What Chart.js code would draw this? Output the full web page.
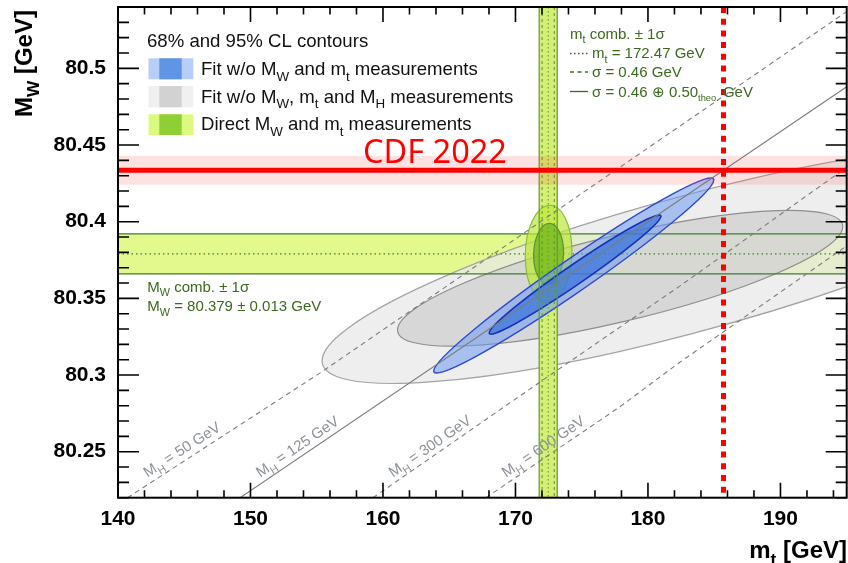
<!DOCTYPE html>
<html>
<head>
<meta charset="utf-8">
<script src="https://cdn.jsdelivr.net/npm/chart.js@4.4.1/dist/chart.umd.min.js"></script>
<style>
  html, body { margin: 0; padding: 0; background: #ffffff; }
  #c { display: block; }
</style>
</head>
<body>
<canvas id="c" width="848" height="563"></canvas>
<script>
// ---- axis ranges and tick labels ----
const mtRange = [140, 195];
const mwRange = [80.22, 80.54];
const mtTicks = [140, 150, 160, 170, 180, 190];
const mwTicks = [80.25, 80.3, 80.35, 80.4, 80.45, 80.5];

// ---- measurements ----
const mwComb = [80.379, 0.013];          // value, 1 sigma
const mtComb = [172.47, 0.46, 0.68];     // value, exp. sigma, total sigma
const mtTheo = 0.50;
const cdfMw = [80.4335, 0.0094];         // CDF 2022 value, 1 sigma
const cdfMtCross = 185.7;                // m_t where the M_H = 125 GeV line meets CDF

// ---- SM prediction lines for fixed Higgs mass (m_t, M_W points) ----
const higgsMass = [50, 125, 300, 600];
const higgsLineMt = [
  [140.72, 155.3, 195.0],
  [149.22, 185.7, 195.0],
  [159.24, 171.85, 182.4, 195.0],
  [167.77, 177.9, 182.4, 195.0]
];
const higgsLineMw = [
  [80.22, 80.3016, 80.537],
  [80.22, 80.4335, 80.488],
  [80.22, 80.2954, 80.358, 80.4355],
  [80.22, 80.2794, 80.3083, 80.3842]
];

// ---- CL contours: [95% CL, 68% CL] ----
// fit without M_W, m_t and M_H
const freeFitMt = [183.2, 177.9];
const freeFitMw = [80.3724, 80.3631];
const freeFitHalfMt = [27.8, 16.8];
const freeFitHalfMw = [0.0779, 0.0443];
const freeFitRho = [0.81, 0.76];
// fit without M_W and m_t
const smFitMt = [174.4, 174.5];
const smFitMw = [80.3649, 80.3655];
const smFitHalfMt = [10.57, 6.48];
const smFitHalfMw = [0.0636, 0.0388];
const smFitRho = [0.979, 0.98];
// direct M_W and m_t measurements
const directMt = [172.5, 172.5];
const directMw = [80.379, 80.379];
const directHalfMt = [1.76, 1.13];
const directHalfMw = [0.0317, 0.0199];
const directRho = [0.05, 0.05];

const SANS = "'Liberation Sans', Arial, Helvetica, sans-serif";
const GREEN_TXT = '#3a6a1c';

// draw text made of normal / subscript pieces, starting at (x, y) baseline
function richText(ctx, parts, x, y, size, opt) {
  opt = opt || {};
  const fam = opt.family || SANS;
  const weight = opt.weight || 'normal';
  const subScale = opt.subScale || 0.72;
  const fontFor = k => `${weight} ${k === 'sub' ? size * subScale : size}px ${fam}`;
  let total = 0;
  for (const [t, k] of parts) { ctx.font = fontFor(k); total += ctx.measureText(t).width; }
  let cx = opt.align === 'right' ? x - total : (opt.align === 'center' ? x - total / 2 : x);
  ctx.textAlign = 'left';
  ctx.textBaseline = 'alphabetic';
  ctx.fillStyle = opt.color || '#000';
  for (const [t, k] of parts) {
    ctx.font = fontFor(k);
    ctx.fillText(t, cx, k === 'sub' ? y + size * 0.3 : y);
    cx += ctx.measureText(t).width;
  }
  return total;
}

// filled contour from centre, half ranges and correlation, mapped through the chart scales
function contour(ctx, xs, ys, mt, mw, hMt, hMw, rho, fill, stroke, lw) {
  const cx = xs.getPixelForValue(mt), cy = ys.getPixelForValue(mw);
  const X = Math.abs(xs.getPixelForValue(mt + hMt) - cx);
  const Y = Math.abs(ys.getPixelForValue(mw + hMw) - cy);
  const s = Math.sqrt(1 - rho * rho);
  ctx.beginPath();
  ctx.save();
  ctx.transform(X, -Y * rho, 0, -Y * s, cx, cy);
  ctx.arc(0, 0, 1, 0, Math.PI * 2);
  ctx.restore();
  ctx.fillStyle = fill; ctx.fill();
  ctx.lineWidth = lw; ctx.strokeStyle = stroke; ctx.stroke();
}

function vline(ctx, x, top, bottom, color, lw, dash) {
  ctx.beginPath(); ctx.setLineDash(dash || []); ctx.strokeStyle = color; ctx.lineWidth = lw;
  ctx.moveTo(x, top); ctx.lineTo(x, bottom); ctx.stroke(); ctx.setLineDash([]);
}
function hline(ctx, y, left, right, color, lw, dash) {
  ctx.beginPath(); ctx.setLineDash(dash || []); ctx.strokeStyle = color; ctx.lineWidth = lw;
  ctx.moveTo(left, y); ctx.lineTo(right, y); ctx.stroke(); ctx.setLineDash([]);
}

const layers = {
  id: 'layers',
  beforeDatasetsDraw(chart) {
    const { ctx, chartArea: a, scales: { x: xs, y: ys } } = chart;
    ctx.save();
    ctx.beginPath(); ctx.rect(a.left, a.top, a.right - a.left, a.bottom - a.top); ctx.clip();

    // M_W combination band
    const mwHi = ys.getPixelForValue(mwComb[0] + mwComb[1]);
    const mwLo = ys.getPixelForValue(mwComb[0] - mwComb[1]);
    ctx.fillStyle = '#e3f98e';
    ctx.fillRect(a.left, mwHi, a.right - a.left, mwLo - mwHi);

    // fit without M_W, m_t, M_H
    contour(ctx, xs, ys, freeFitMt[0], freeFitMw[0], freeFitHalfMt[0], freeFitHalfMw[0], freeFitRho[0],
      'rgba(232,232,232,0.72)', '#a3a3a3', 1.2);
    contour(ctx, xs, ys, freeFitMt[1], freeFitMw[1], freeFitHalfMt[1], freeFitHalfMw[1], freeFitRho[1],
      'rgba(210,210,210,0.8)', '#8e8e8e', 1.2);

    // band edges and central value
    hline(ctx, mwHi, a.left, a.right, '#3f7d2e', 1.2);
    hline(ctx, mwLo, a.left, a.right, '#3f7d2e', 1.2);
    hline(ctx, ys.getPixelForValue(mwComb[0]), a.left, a.right, '#3f7d2e', 1.2, [1.5, 3]);

    // m_t combination band
    const tL = xs.getPixelForValue(mtComb[0] - mtComb[2]);
    const tR = xs.getPixelForValue(mtComb[0] + mtComb[2]);
    ctx.fillStyle = '#d5ef74';
    ctx.fillRect(tL, a.top, tR - tL, a.bottom - a.top);

    // direct measurements
    contour(ctx, xs, ys, directMt[0], directMw[0], directHalfMt[0], directHalfMw[0], directRho[0],
      'rgba(190,232,60,0.72)', '#86bd3c', 1.2);
    contour(ctx, xs, ys, directMt[1], directMw[1], directHalfMt[1], directHalfMw[1], directRho[1],
      'rgba(95,170,20,0.62)', '#5a952a', 1.2);

    // fit without M_W and m_t
    contour(ctx, xs, ys, smFitMt[0], smFitMw[0], smFitHalfMt[0], smFitHalfMw[0], smFitRho[0],
      'rgba(110,155,240,0.55)', '#2c4bd2', 1.4);
    contour(ctx, xs, ys, smFitMt[1], smFitMw[1], smFitHalfMt[1], smFitHalfMw[1], smFitRho[1],
      'rgba(50,110,220,0.68)', '#1732b4', 1.6);

    // m_t band lines
    vline(ctx, tL, a.top, a.bottom, '#5d9a35', 1.2);
    vline(ctx, tR, a.top, a.bottom, '#5d9a35', 1.2);
    vline(ctx, xs.getPixelForValue(mtComb[0] - mtComb[1]), a.top, a.bottom, '#5d9a35', 1.1, [3, 3]);
    vline(ctx, xs.getPixelForValue(mtComb[0] + mtComb[1]), a.top, a.bottom, '#5d9a35', 1.1, [3, 3]);
    vline(ctx, xs.getPixelForValue(mtComb[0]), a.top, a.bottom, '#5d9a35', 1.1, [1.5, 2.5]);

    // CDF 2022 band
    const cHi = ys.getPixelForValue(cdfMw[0] + cdfMw[1]);
    const cLo = ys.getPixelForValue(cdfMw[0] - cdfMw[1]);
    ctx.fillStyle = 'rgba(250,60,60,0.15)';
    ctx.fillRect(a.left, cHi, a.right - a.left, cLo - cHi);

    ctx.restore();
  },
  afterDraw(chart) {
    const { ctx, chartArea: a, scales: { x: xs, y: ys } } = chart;
    ctx.save();

    // Higgs mass labels along the lines
    higgsMass.forEach((m, i) => {
      const x0 = xs.getPixelForValue(higgsLineMt[i][0]), y0 = ys.getPixelForValue(higgsLineMw[i][0]);
      const x1 = xs.getPixelForValue(higgsLineMt[i][1]), y1 = ys.getPixelForValue(higgsLineMw[i][1]);
      const ang = Math.atan2(y1 - y0, x1 - x0);
      ctx.save();
      ctx.translate(x0 + 20, y0 - 20);
      ctx.rotate(ang);
      richText(ctx, [['M', ''], ['H', 'sub'], [` = ${m} GeV`, '']], 0, 0, 15, { color: '#8d9299' });
      ctx.restore();
    });

    // frame
    ctx.strokeStyle = '#000'; ctx.lineWidth = 2;
    ctx.strokeRect(a.left, a.top, a.right - a.left, a.bottom - a.top);

    // ticks on all four sides, pointing inward
    ctx.lineWidth = 1.6;
    ctx.beginPath();
    for (let m = mtRange[0]; m <= mtRange[1]; m += 2) {
      const px = xs.getPixelForValue(m);
      const len = m % 10 === 0 ? 15 : 7.5;
      ctx.moveTo(px, a.bottom); ctx.lineTo(px, a.bottom - len);
      ctx.moveTo(px, a.top); ctx.lineTo(px, a.top + len);
    }
    for (let k = 22; k <= 54; k++) {
      const py = ys.getPixelForValue(80 + k / 100);
      const len = k % 5 === 0 ? 21 : 11;
      ctx.moveTo(a.left, py); ctx.lineTo(a.left + len, py);
      ctx.moveTo(a.right, py); ctx.lineTo(a.right - len, py);
    }
    ctx.stroke();

    // axis titles
    ctx.save();
    ctx.translate(31.5, 117);
    ctx.rotate(-Math.PI / 2);
    richText(ctx, [['M', ''], ['W', 'sub'], [' [GeV]', '']], 0, 0, 24, { weight: 'bold' });
    ctx.restore();
    richText(ctx, [['m', ''], ['t', 'sub'], [' [GeV]', '']], 847, 557.5, 24, { weight: 'bold', align: 'right' });

    // legend
    richText(ctx, [['68% and 95% CL contours', '']], 147, 46.7, 18.6, { color: '#111' });
    const swatches = [
      ['#b7cef8', '#5f95e4', 58.3, 79.3, [['Fit w/o M', ''], ['W', 'sub'], [' and m', ''], ['t', 'sub'], [' measurements', '']], 75],
      ['#f0f0f0', '#d2d2d2', 86, 107.3, [['Fit w/o M', ''], ['W', 'sub'], [', m', ''], ['t', 'sub'], [' and M', ''], ['H', 'sub'], [' measurements', '']], 102.7],
      ['#dcfa80', '#8ecf36', 114.3, 135, [['Direct M', ''], ['W', 'sub'], [' and m', ''], ['t', 'sub'], [' measurements', '']], 130.3]
    ];
    swatches.forEach(([light, dark, y0, y1, parts, base]) => {
      ctx.fillStyle = light; ctx.fillRect(148.5, y0, 44.8, y1 - y0);
      ctx.fillStyle = dark; ctx.fillRect(159.3, y0, 22.4, y1 - y0);
      richText(ctx, parts, 201, base, 18.6, { color: '#111' });
    });

    // m_t combination legend
    richText(ctx, [['m', ''], ['t', 'sub'], [' comb. \u00b1 1\u03c3', '']], 570, 38.7, 15, { color: GREEN_TXT });
    hline(ctx, 53.5, 570, 588, GREEN_TXT, 1.3, [1.5, 2.5]);
    richText(ctx, [['m', ''], ['t', 'sub'], [` = ${mtComb[0]} GeV`, '']], 592, 58.3, 15, { color: GREEN_TXT });
    hline(ctx, 72, 570, 588, GREEN_TXT, 1.3, [4, 3.5]);
    richText(ctx, [[`\u03c3 = ${mtComb[1].toFixed(2)} GeV`, '']], 592, 76.7, 15, { color: GREEN_TXT });
    hline(ctx, 91.5, 570, 588, GREEN_TXT, 1.3);
    richText(ctx, [[`\u03c3 = ${mtComb[1].toFixed(2)} \u2295 ${mtTheo.toFixed(2)}`, ''], ['theo.', 'sub'], [' GeV', '']],
      592, 96.7, 15, { color: GREEN_TXT, subScale: 0.62 });

    // M_W combination legend
    richText(ctx, [['M', ''], ['W', 'sub'], [' comb. \u00b1 1\u03c3', '']], 147.3, 291.7, 15, { color: GREEN_TXT });
    richText(ctx, [['M', ''], ['W', 'sub'], [` = ${mwComb[0]} \u00b1 ${mwComb[1]} GeV`, '']], 147.3, 311, 15, { color: GREEN_TXT });

    // CDF label
    ctx.font = "32.5px 'Noto Sans', 'Open Sans', sans-serif";
    ctx.fillStyle = '#ff0000';
    ctx.textAlign = 'left'; ctx.textBaseline = 'alphabetic';
    ctx.fillText('CDF 2022', 363, 163.3);

    ctx.restore();
  }
};

const lineStyle = (data, color, width, dash) => ({
  data, showLine: true, borderColor: color, borderWidth: width, borderDash: dash || [],
  pointRadius: 0, pointHoverRadius: 0, tension: 0, fill: false, clip: 0, borderCapStyle: 'butt'
});

const datasets = [
  // CDF central value and the m_t at which it meets M_H = 125 GeV
  lineStyle([{ x: cdfMtCross, y: mwRange[1] }, { x: cdfMtCross, y: mwRange[0] }], '#ff0000', 5, [6, 5.7]),
  lineStyle([{ x: mtRange[0], y: cdfMw[0] }, { x: mtRange[1], y: cdfMw[0] }], '#ff0000', 5)
];
higgsMass.forEach((m, i) => {
  const pts = higgsLineMt[i].map((v, j) => ({ x: v, y: higgsLineMw[i][j] }));
  datasets.push(lineStyle(pts, '#7c7c7c', 1.1, m === 125 ? [] : [5, 4]));
});

const tickFont = { family: SANS, size: 21, weight: 'bold' };

new Chart(document.getElementById('c'), {
  type: 'scatter',
  data: { datasets },
  options: {
    responsive: false,
    devicePixelRatio: 1,
    animation: false,
    events: [],
    layout: { padding: { top: 7, right: 1.3, left: 0, bottom: 0 } },
    plugins: { legend: { display: false }, tooltip: { enabled: false }, title: { display: false } },
    scales: {
      x: {
        type: 'linear', min: mtRange[0], max: mtRange[1],
        afterBuildTicks: s => { s.ticks = mtTicks.map(v => ({ value: v })); },
        afterFit: s => { s.height = 65.3; s.paddingLeft = 0; s.paddingRight = 0; },
        grid: { display: false, drawTicks: false },
        border: { display: false },
        ticks: { font: tickFont, color: '#000', padding: 9, maxRotation: 0, autoSkip: false,
                 callback: v => String(v) }
      },
      y: {
        type: 'linear', min: mwRange[0], max: mwRange[1],
        afterBuildTicks: s => { s.ticks = mwTicks.map(v => ({ value: v })); },
        afterFit: s => { s.width = 118; s.paddingTop = 0; s.paddingBottom = 0; },
        grid: { display: false, drawTicks: false },
        border: { display: false },
        ticks: { font: tickFont, color: '#000', padding: 12, autoSkip: false,
                 callback: v => String(Number(v.toFixed(2))) }
      }
    }
  },
  plugins: [layers]
});
</script>
</body>
</html>
